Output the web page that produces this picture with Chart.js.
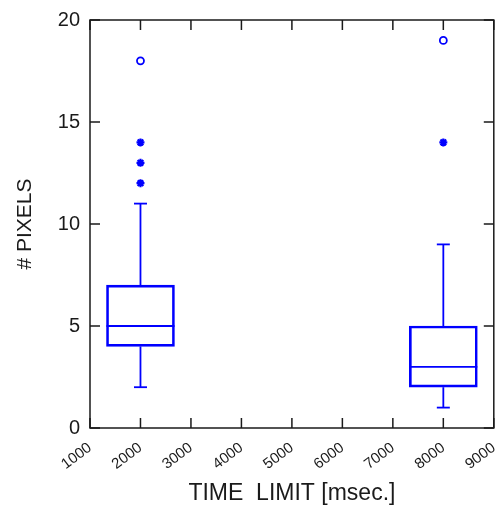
<!DOCTYPE html>
<html>
<head>
<meta charset="utf-8">
<script src="https://cdn.jsdelivr.net/npm/chart.js@4/dist/chart.umd.min.js"></script>
<style>
  html, body { margin: 0; padding: 0; background: #fff; }
  #wrap { width: 500px; height: 508px; }
</style>
</head>
<body>
<div id="wrap"><canvas id="boxChart" width="500" height="508"></canvas></div>
<script>
// box statistics per time limit
const timeLimits = [2000, 8000];
const lowerWhisker = [2, 1];
const lowerQuartile = [4, 2];
const medians = [5, 3];
const upperQuartile = [7, 5];
const upperWhisker = [11, 9];

// outliers (asterisks) and far outliers (circles)
const outlierX = [2000, 2000, 2000, 8000];
const outlierY = [12, 13, 14, 14];
const farOutlierX = [2000, 8000];
const farOutlierY = [18, 19];

// axis ticks
const xTickValues = [1000, 2000, 3000, 4000, 5000, 6000, 7000, 8000, 9000];
const yTickValues = [0, 5, 10, 15, 20];

const BLUE = 'rgb(0,0,255)';
const INK = '#1a1a1a';
const FONT = 'Arial, "Liberation Sans", sans-serif';

/* whiskers, caps and median lines drawn on top of the box bars */
const boxDetails = {
    id: 'boxDetails',
    afterDatasetsDraw(chart) {
        const { ctx, scales: { x, y } } = chart;
        const boxW = 68, capW = 13;
        ctx.save();
        ctx.strokeStyle = BLUE;
        ctx.lineWidth = 1.8;
        timeLimits.forEach((t, i) => {
            const px = x.getPixelForValue(t);
            const seg = (x1, y1, x2, y2) => {
                ctx.beginPath(); ctx.moveTo(x1, y1); ctx.lineTo(x2, y2); ctx.stroke();
            };
            // median
            const ym = y.getPixelForValue(medians[i]);
            seg(px - boxW / 2, ym, px + boxW / 2, ym);
            // whiskers
            const yq1 = y.getPixelForValue(lowerQuartile[i]);
            const yq3 = y.getPixelForValue(upperQuartile[i]);
            const ylo = y.getPixelForValue(lowerWhisker[i]);
            const yhi = y.getPixelForValue(upperWhisker[i]);
            seg(px, yq3, px, yhi);
            seg(px, yq1, px, ylo);
            seg(px - capW / 2, yhi, px + capW / 2, yhi);
            seg(px - capW / 2, ylo, px + capW / 2, ylo);
        });
        ctx.restore();
    }
};

/* closed frame with inward ticks on all four sides */
const frame = {
    id: 'frame',
    afterDraw(chart) {
        const { ctx, chartArea: a, scales: { x, y } } = chart;
        const len = 10;
        ctx.save();
        ctx.strokeStyle = INK;
        ctx.lineWidth = 1.5;
        ctx.strokeRect(a.left, a.top, a.right - a.left, a.bottom - a.top);
        ctx.beginPath();
        xTickValues.forEach(v => {
            const px = x.getPixelForValue(v);
            ctx.moveTo(px, a.bottom); ctx.lineTo(px, a.bottom - len);
            ctx.moveTo(px, a.top); ctx.lineTo(px, a.top + len);
        });
        yTickValues.forEach(v => {
            const py = y.getPixelForValue(v);
            ctx.moveTo(a.left, py); ctx.lineTo(a.left + len, py);
            ctx.moveTo(a.right, py); ctx.lineTo(a.right - len, py);
        });
        ctx.stroke();
        ctx.restore();
    }
};

new Chart(document.getElementById('boxChart'), {
    type: 'bar',
    data: {
        datasets: [
            {
                label: 'box',
                data: timeLimits.map((t, i) => ({ x: t, y: [lowerQuartile[i], upperQuartile[i]] })),
                backgroundColor: 'rgba(0,0,0,0)',
                borderColor: BLUE,
                borderWidth: 2,
                borderSkipped: false,
                barThickness: 68
            },
            {
                type: 'line',
                label: 'outliers',
                data: outlierX.map((v, i) => ({ x: v, y: outlierY[i] })),
                showLine: false,
                pointStyle: 'star',
                pointRadius: 4,
                borderColor: BLUE,
                borderWidth: 2.2,
                backgroundColor: BLUE
            },
            {
                type: 'line',
                label: 'far outliers',
                data: farOutlierX.map((v, i) => ({ x: v, y: farOutlierY[i] })),
                showLine: false,
                pointStyle: 'circle',
                pointRadius: 3.5,
                borderColor: BLUE,
                borderWidth: 1.8,
                backgroundColor: 'rgba(0,0,0,0)'
            }
        ]
    },
    options: {
        responsive: false,
        animation: false,
        layout: { padding: { top: 20, right: 3, left: 0, bottom: 0 } },
        plugins: { legend: { display: false }, tooltip: { enabled: false } },
        scales: {
            x: {
                type: 'linear',
                offset: false,
                min: 1000,
                max: 9000,
                afterBuildTicks: s => { s.ticks = xTickValues.map(v => ({ value: v })); },
                afterFit: s => { s.height = 80; s.paddingLeft = 0; s.paddingRight = 0; },
                grid: { display: false, drawTicks: false, offset: false },
                border: { display: false },
                ticks: {
                    autoSkip: false,
                    minRotation: 37,
                    maxRotation: 37,
                    padding: 11,
                    color: INK,
                    font: { family: FONT, size: 15 },
                    callback: v => String(v)
                },
                title: {
                    display: true,
                    text: 'TIME  LIMIT [msec.]',
                    color: INK,
                    font: { family: FONT, size: 23 },
                    padding: { top: 0, bottom: 1 }
                }
            },
            y: {
                min: 0,
                max: 20,
                afterBuildTicks: s => { s.ticks = yTickValues.map(v => ({ value: v })); },
                afterFit: s => { s.width = 90; s.paddingTop = 0; s.paddingBottom = 0; },
                grid: { display: false, drawTicks: false },
                border: { display: false },
                ticks: {
                    padding: 10,
                    color: INK,
                    font: { family: FONT, size: 20 }
                },
                title: {
                    display: true,
                    text: '# PIXELS',
                    color: INK,
                    font: { family: FONT, size: 21 },
                    padding: { top: 13, bottom: 0 }
                }
            }
        }
    },
    plugins: [boxDetails, frame]
});
</script>
</body>
</html>
